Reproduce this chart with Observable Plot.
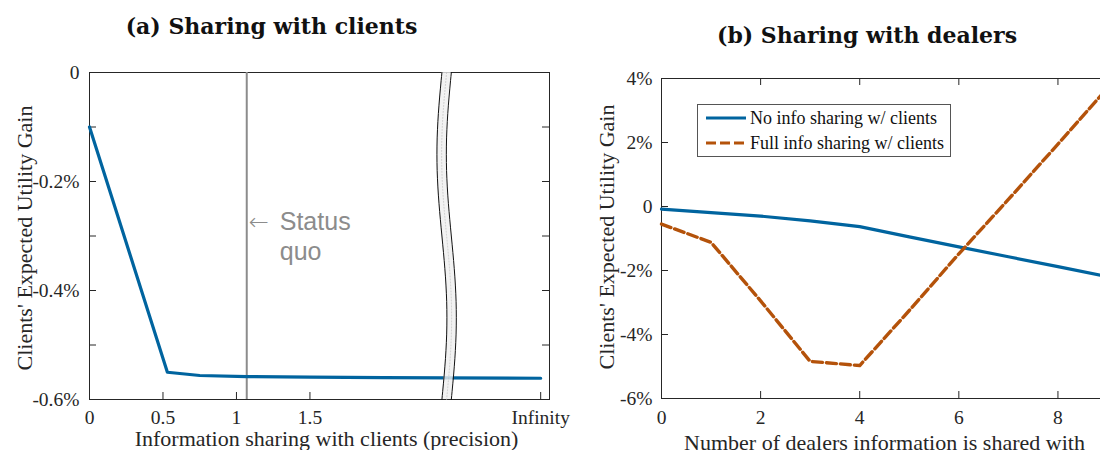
<!DOCTYPE html>
<html><head><meta charset="utf-8">
<script src="https://cdn.jsdelivr.net/npm/d3@7"></script>
<script src="https://cdn.jsdelivr.net/npm/@observablehq/plot@0.6"></script>
<style>
html,body{margin:0;padding:0;background:#fff;}
body{width:1100px;height:450px;overflow:hidden;position:relative;}
#pa{position:absolute;left:0;top:0;width:580px;height:450px;}
#pb{position:absolute;left:580px;top:0;width:547px;height:450px;}
#pa svg,#pb svg{max-width:none !important;display:block;}
#legend{position:absolute;left:697px;top:104px;}
</style></head><body>
<div id="pa"></div><div id="pb"></div><div id="legend"></div>
<script>
// ---------- Panel (a) data ----------
const precision = [0, 0.53, 0.75, 1.07, 1.5, 2.0, Infinity];
const gainA = [-0.100, -0.550, -0.556, -0.558, -0.559, -0.560, -0.561];
const xTicksA = [0, 0.5, 1, 1.5, Infinity];
const xTickLabelsA = ["0", "0.5", "1", "1.5", "Infinity"];
const yTicksA = [0, -0.1, -0.2, -0.3, -0.4, -0.5, -0.6];
const yLabelTicksA = [0, -0.2, -0.4, -0.6];
const statusQuo = 1.07;
const titleA = "(a) Sharing with clients";
const xLabelA = "Information sharing with clients (precision)";
const yLabel = "Clients' Expected Utility Gain";

// ---------- Panel (b) data ----------
const dealers = [0, 1, 2, 3, 4, 5, 6, 7, 8, 9];
const noInfoSharing = [-0.08, -0.19, -0.30, -0.45, -0.63, -0.95, -1.26, -1.57, -1.88, -2.19];
const fullInfoSharing = [-0.55, -1.12, -2.95, -4.84, -4.97, -3.25, -1.48, 0.22, 1.95, 3.70];
const xTicksB = [0, 2, 4, 6, 8];
const yTicksB = [-6, -4, -2, 0, 2, 4];
const seriesNames = ["No info sharing w/ clients", "Full info sharing w/ clients"];
const titleB = "(b) Sharing with dealers";
const xLabelB = "Number of dealers information is shared with";

const BLUE = "#00649f", ORANGE = "#b4520a", AX = "#262626", GRAY = "#8c8c8c";
const SERIF = "'Liberation Serif', 'Times New Roman', serif";
const TITLEFONT = "'DejaVu Serif', serif";

// axis-break geometry for panel (a)
const INF_POS = 3.07, X_MAX_A = 3.13, BREAK_X = 2.43, AMP = 0.034, HALF = 0.032;
const pos = v => v === Infinity ? INF_POS : v;
const tickLabelA = new Map(xTicksA.map((v, i) => [pos(v), xTickLabelsA[i]]));
const breakPts = d3.range(0, 41).map(i => {
  const t = i / 40;
  const c = BREAK_X - AMP * Math.sin(2 * Math.PI * t);
  return {y: -0.6 * t, c, x1: c - HALF, x2: c + HALF};
});
const dataA = precision.map((p, i) => ({x: pos(p), y: gainA[i]}));

const W_A = 580, H = 450, mlA = 89, mrA = 31, mtA = 72, mbA = 51;
const pwA = W_A - mlA - mrA, phA = H - mtA - mbA;
const fmtA = d => d === 0 ? "0" : d.toFixed(1) + "%";

const plotA = Plot.plot({
  width: W_A, height: H,
  marginLeft: mlA, marginRight: mrA, marginTop: mtA, marginBottom: mbA,
  x: {domain: [0, X_MAX_A]},
  y: {domain: [-0.6, 0]},
  style: {fontFamily: SERIF, fontSize: "19.5px", color: AX, background: "white", overflow: "visible", maxWidth: "none"},
  marks: [
    Plot.frame({stroke: AX, strokeWidth: 1}),
    Plot.ruleY(yTicksA, {y: d => d, insetRight: pwA - 7, stroke: AX}),
    Plot.ruleY(yTicksA, {y: d => d, insetLeft: pwA - 7, stroke: AX}),
    Plot.ruleX(xTicksA.map(pos), {x: d => d, insetTop: phA - 7, stroke: AX}),
    Plot.ruleX([statusQuo], {x: d => d, stroke: GRAY, strokeWidth: 2}),
    Plot.line(dataA, {x: "x", y: "y", stroke: BLUE, strokeWidth: 3.2}),
    Plot.areaX(breakPts, {y: "y", x1: "x1", x2: "x2", fill: "#efefef", fillOpacity: 0.8, curve: "natural"}),
    Plot.line(breakPts, {y: "y", x: "x1", stroke: "#111", strokeWidth: 1, curve: "natural"}),
    Plot.line(breakPts, {y: "y", x: "x2", stroke: "#111", strokeWidth: 1, curve: "natural"}),
    Plot.line(breakPts, {y: "y", x: "c", stroke: "#bbb", strokeWidth: 0.7, strokeDasharray: "1,2", curve: "natural"}),
    Plot.axisY({ticks: yLabelTicksA, tickSize: 0, tickPadding: 10, tickFormat: fmtA, label: null}),
    Plot.axisX({ticks: xTicksA.map(pos), tickSize: 0, tickPadding: 11, tickFormat: d => tickLabelA.get(d), label: null}),
    Plot.text(["←"], {x: statusQuo, y: -0.275, dx: 2, textAnchor: "start", lineAnchor: "middle", fill: GRAY, fontFamily: "'DejaVu Sans', sans-serif", fontSize: 24, fontWeight: 300}),
    Plot.text(["Status"], {x: statusQuo, y: -0.275, dx: 33, textAnchor: "start", lineAnchor: "middle", fill: GRAY, fontFamily: "'Liberation Sans', Arial, sans-serif", fontSize: 25}),
    Plot.text(["quo"], {x: statusQuo, y: -0.330, dx: 33, textAnchor: "start", lineAnchor: "middle", fill: GRAY, fontFamily: "'Liberation Sans', Arial, sans-serif", fontSize: 25}),
    Plot.text([titleA], {frameAnchor: "top", dx: 271 - (mlA + pwA / 2), dy: 33 - mtA, lineAnchor: "bottom", fontFamily: TITLEFONT, fontWeight: "bold", fontSize: 22, fill: "#111"}),
    Plot.text([xLabelA], {frameAnchor: "bottom", dx: 7, dy: 445 - (H - mbA), lineAnchor: "bottom", fontSize: 22, fill: AX}),
    Plot.text([yLabel], {frameAnchor: "left", dx: -65, dy: 2, rotate: -90, lineAnchor: "middle", textAnchor: "middle", fontSize: 22, fill: AX})
  ]
});
document.getElementById("pa").appendChild(plotA);

// ---------- Panel (b) ----------
const W_B = 547, mlB = 81, mrB = 20, mtB = 78, mbB = 52;
const pwB = W_B - mlB - mrB, phB = H - mtB - mbB;
const fmtB = d => d === 0 ? "0" : d + "%";
const dataB = dealers.flatMap((d, i) => [
  {x: d, y: noInfoSharing[i], s: seriesNames[0]},
  {x: d, y: fullInfoSharing[i], s: seriesNames[1]}
]);

const plotB = Plot.plot({
  width: W_B, height: H,
  marginLeft: mlB, marginRight: mrB, marginTop: mtB, marginBottom: mbB,
  x: {domain: [0, 9]},
  y: {domain: [-6, 4]},
  style: {fontFamily: SERIF, fontSize: "19.5px", color: AX, background: "white", overflow: "visible", maxWidth: "none"},
  marks: [
    Plot.frame({stroke: AX, strokeWidth: 1}),
    Plot.ruleY(yTicksB, {y: d => d, insetRight: pwB - 7, stroke: AX}),
    Plot.ruleX(xTicksB, {x: d => d, insetTop: phB - 7, stroke: AX}),
    Plot.ruleX(xTicksB, {x: d => d, insetBottom: phB - 7, stroke: AX}),
    Plot.line(dataB.filter(d => d.s === seriesNames[0]), {x: "x", y: "y", stroke: BLUE, strokeWidth: 3.2}),
    Plot.line(dataB.filter(d => d.s === seriesNames[1]), {x: "x", y: "y", stroke: ORANGE, strokeWidth: 3.4, strokeDasharray: "10,4"}),
    Plot.axisY({ticks: yTicksB, tickSize: 0, tickPadding: 9, tickFormat: fmtB, label: null}),
    Plot.axisX({ticks: xTicksB, tickSize: 0, tickPadding: 12, label: null}),
    Plot.text([titleB], {frameAnchor: "top", dx: 866.5 - (580 + mlB + pwB / 2), dy: 42.5 - mtB, lineAnchor: "bottom", fontFamily: TITLEFONT, fontWeight: "bold", fontSize: 22, fill: "#111"}),
    Plot.text([xLabelB], {frameAnchor: "bottom", dx: 0, dy: 449.5 - (H - mbB), lineAnchor: "bottom", fontSize: 22, fill: AX}),
    Plot.text([yLabel], {frameAnchor: "left", dx: -55, dy: -1.5, rotate: -90, lineAnchor: "middle", textAnchor: "middle", fontSize: 22, fill: AX})
  ]
});
document.getElementById("pb").appendChild(plotB);

// ---------- Legend ----------
const ns = "http://www.w3.org/2000/svg";
const lg = document.createElementNS(ns, "svg");
lg.setAttribute("width", 254); lg.setAttribute("height", 53);
lg.innerHTML = `<rect x="0.5" y="0.5" width="253" height="52" fill="white" stroke="#555" stroke-width="1"/>` +
  [BLUE, ORANGE].map((c, i) =>
    `<line x1="9" x2="49" y1="${14 + i * 25}" y2="${14 + i * 25}" stroke="${c}" stroke-width="3.2" ${i ? 'stroke-dasharray="10,4"' : ''}/>` +
    `<text x="53" y="${20 + i * 25}" font-family="${SERIF.replace(/'/g, "&quot;")}" font-size="18" fill="#111">${seriesNames[i]}</text>`
  ).join("");
document.getElementById("legend").appendChild(lg);
</script>
</body></html>
